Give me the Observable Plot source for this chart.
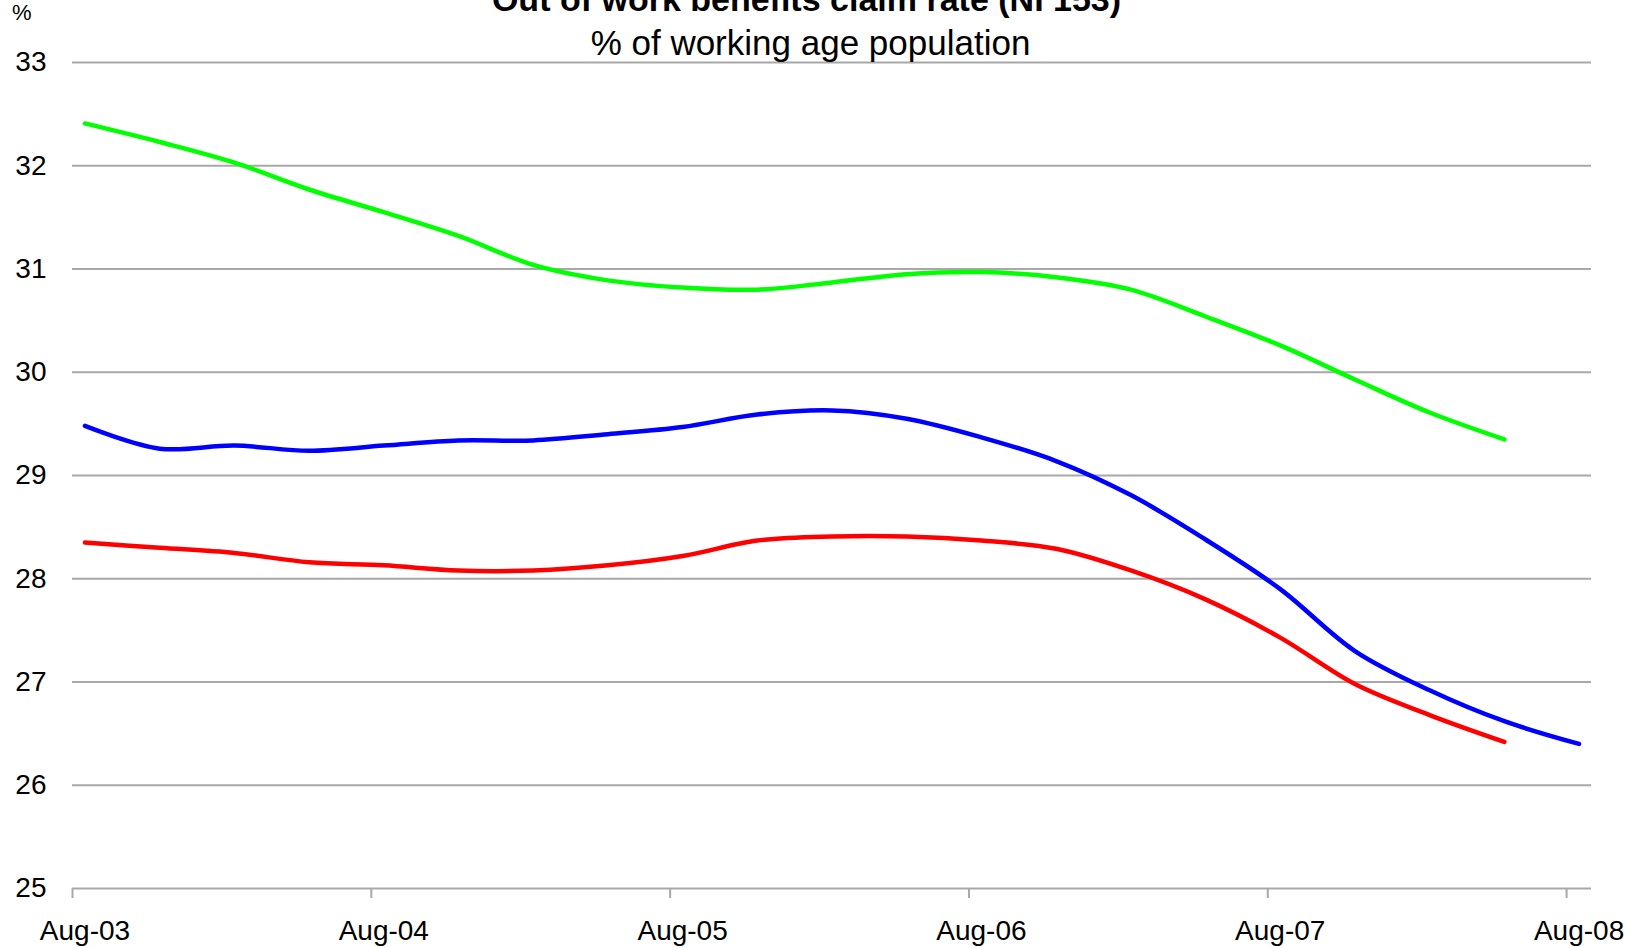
<!DOCTYPE html>
<html>
<head>
<meta charset="utf-8">
<script src="https://cdn.jsdelivr.net/npm/d3@7"></script>
<script src="https://cdn.jsdelivr.net/npm/@observablehq/plot@0.6"></script>
<style>
  html, body { margin: 0; padding: 0; background: #fff; overflow: hidden; }
  #wrap { position: relative; width: 1625px; height: 948px; font-family: "Liberation Sans", Arial, Helvetica, sans-serif; }
  .ttl { position: absolute; left: 0; width: 1625px; text-align: center; line-height: 1; color: #000; white-space: nowrap; }
  #title { top: -18px; font-size: 34px; font-weight: bold; left: -6px; }
  #subtitle { top: 25px; font-size: 35px; left: -2px; }
  #unit { position: absolute; left: 12px; top: 2px; font-size: 22px; line-height: 1; }
  #chart { position: absolute; left: 0; top: 0; }
</style>
</head>
<body>
<div id="wrap">
  <div id="chart"></div>
  <div class="ttl" id="title">Out of work benefits claim rate (NI 153)</div>
  <div class="ttl" id="subtitle">% of working age population</div>
  <div id="unit">%</div>
</div>
<script>
// Quarterly periods (Aug-03 .. Aug-08)
const periods = ["Aug-03","Nov-03","Feb-04","May-04","Aug-04","Nov-04","Feb-05","May-05",
  "Aug-05","Nov-05","Feb-06","May-06","Aug-06","Nov-06","Feb-07","May-07",
  "Aug-07","Nov-07","Feb-08","May-08","Aug-08"];
const seriesNames = ["Series 1", "Series 2", "Series 3"];
const seriesColors = ["#00ff00", "#0000ff", "#ff0000"];
const greenValues = [32.41, 32.23, 32.03, 31.77, 31.55, 31.32, 31.04, 30.89, 30.82, 30.80,
  30.87, 30.95, 30.97, 30.92, 30.80, 30.54, 30.26, 29.93, 29.61, 29.35];
const blueValues = [29.48, 29.26, 29.29, 29.24, 29.29, 29.34, 29.34, 29.40, 29.47, 29.59,
  29.63, 29.55, 29.37, 29.14, 28.81, 28.38, 27.90, 27.30, 26.92, 26.62, 26.40];
const redValues = [28.35, 28.30, 28.25, 28.16, 28.13, 28.08, 28.08, 28.13, 28.22, 28.37,
  28.41, 28.41, 28.37, 28.29, 28.08, 27.80, 27.43, 26.98, 26.68, 26.42];
const yTicks = [25, 26, 27, 28, 29, 30, 31, 32, 33];
const xTickLabels = ["Aug-03", "Aug-04", "Aug-05", "Aug-06", "Aug-07", "Aug-08"];

// month index of each period (categories are monthly on the axis)
const monthIndex = periods.map((p, i) => i * 3);
const rows = [];
[greenValues, blueValues, redValues].forEach((vals, s) => {
  vals.forEach((v, i) => rows.push({series: seriesNames[s], m: monthIndex[i], v}));
});
const labelMonths = xTickLabels.map((d, i) => i * 12);
const tickBoundaries = xTickLabels.map((d, i) => i * 12 - 0.5);

const chart = Plot.plot({
  width: 1625,
  height: 948,
  marginLeft: 72,
  marginRight: 34,
  marginTop: 62,
  marginBottom: 60,
  style: {fontFamily: "'Liberation Sans', Arial, Helvetica, sans-serif", background: "white", color: "#000"},
  x: {domain: [-0.5, 60.5], axis: null},
  y: {domain: [25, 33], axis: null},
  color: {domain: seriesNames, range: seriesColors},
  marks: [
    Plot.ruleY(yTicks, {stroke: "#a8a8a8", strokeWidth: 2, strokeOpacity: 1}),
    Plot.axisY(yTicks, {anchor: "left", label: null, tickSize: 0, tickPadding: 26, fontSize: 28, fill: "#000", tickFormat: d => String(d)}),
    Plot.axisX(tickBoundaries, {anchor: "bottom", label: null, tickSize: 10, stroke: "#a8a8a8", strokeWidth: 2, strokeOpacity: 1, tickFormat: () => ""}),
    Plot.axisX(labelMonths, {anchor: "bottom", label: null, tickSize: 0, tickPadding: 32, fontSize: 28, fill: "#000", tickFormat: (d, i) => xTickLabels[i]}),
    Plot.line(rows, {x: "m", y: "v", z: "series", stroke: "series", strokeWidth: 4.5, curve: "catmull-rom"})
  ]
});
document.getElementById("chart").appendChild(chart);
</script>
</body>
</html>
